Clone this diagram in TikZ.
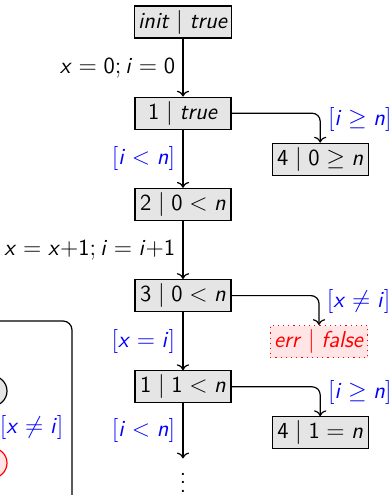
\documentclass[tikz,border=0pt,11pt]{standalone}
\usetikzlibrary{arrows.meta,positioning}

% sans letters and digits inside formulas
\newcommand{\vr}[1]{\textsf{\itshape #1\/}}
\newcommand{\nm}[1]{\textsf{#1}}

\tikzset{
  state/.style={draw,semithick,fill=gray!20,minimum width=48pt,minimum height=16pt,inner sep=2pt},
  errstate/.style={state,draw=red,dotted,fill=red!10,text=red},
  guard/.style={text=blue},
  flow/.style={->,semithick},
  loc/.style={circle,draw,semithick,fill=gray!20,minimum size=15pt}
}

\begin{document}
\begin{tikzpicture}[font=\fontsize{11.5}{14}\selectfont\sffamily,node distance=29pt]
        \useasboundingbox (-91.5pt,11pt) rectangle (104pt,-236.5pt);
        \clip (-91.5pt,11pt) rectangle (104pt,-236.5pt);

        % Main path
        \node[state] (s0) at (0,0) {$\vr{init} \mid \vr{true}$};
        \node[state, below=of s0] (s1) {$\nm{1} \mid \vr{true}$};
        \node[state, below=of s1] (s2) {$\nm{2} \mid \nm{0} < \vr{n}$};
        \node[state, below=of s2] (s3) {$\nm{3} \mid \nm{0} < \vr{n}$};
        \node[state, below=of s3] (s4) {$\nm{1} \mid \nm{1} < \vr{n}$};
        \coordinate[below=27.5pt of s4.south] (s5);
        \node[below=0.5pt of s5, inner sep=0pt, yscale=1.1] (dots) {$\vdots$};

        % Side branches
        \node[state, right=20pt of s1, yshift=-23pt] (t1) {$\nm{4} \mid \nm{0} \geq \vr{n}$};
        \node[errstate, right=19pt of s3, yshift=-23pt] (err) {$\vr{err} \mid \vr{false}$};
        \node[state, right=20pt of s4, yshift=-23pt] (t4) {$\nm{4} \mid \nm{1} = \vr{n}$};

        \draw[flow] (s0) -- (s1) node[midway,left] {$\vr{x} = \nm{0}; \vr{i} = \nm{0}$};
        \draw[flow] (s1) -- (s2) node[midway,left,guard] {$[\vr{i} < \vr{n}]$};
        \draw[flow] (s2) -- (s3) node[midway,left] {$\vr{x} = \vr{x}{+}\nm{1}; \vr{i} = \vr{i}{+}\nm{1}$};
        \draw[flow] (s3) -- (s4) node[midway,left,guard] {$[\vr{x} = \vr{i}]$};
        \draw[flow] (s4) -- (s5) node[midway,left,guard] {$[\vr{i} < \vr{n}]$};

        \draw[flow,rounded corners=4pt] (s1.east) -| (t1.north) node[pos=0.6,right,guard] {$[\vr{i} \geq \vr{n}]$};
        \draw[flow,rounded corners=4pt] (s3.east) -| (err.north) node[pos=0.6,right,guard] {$[\vr{x} \neq \vr{i}]$};
        \draw[flow,rounded corners=4pt] (s4.east) -| (t4.north) node[pos=0.6,right,guard] {$[\vr{i} \geq \vr{n}]$};

        % Left panel
        \draw[semithick,rounded corners=4.5pt] (-150pt,-149.5pt) rectangle (-55.5pt,-262pt);
        \node[loc] (c1) at (-95.5pt,-184.5pt) {};
        \node[loc,draw=red,fill=red!10] (c2) at (-95.5pt,-220.5pt) {};
        \draw[flow] (c1) -- (c2) node[midway,right,guard] {$[\vr{x} \neq \vr{i}]$};
\end{tikzpicture}
\end{document}
